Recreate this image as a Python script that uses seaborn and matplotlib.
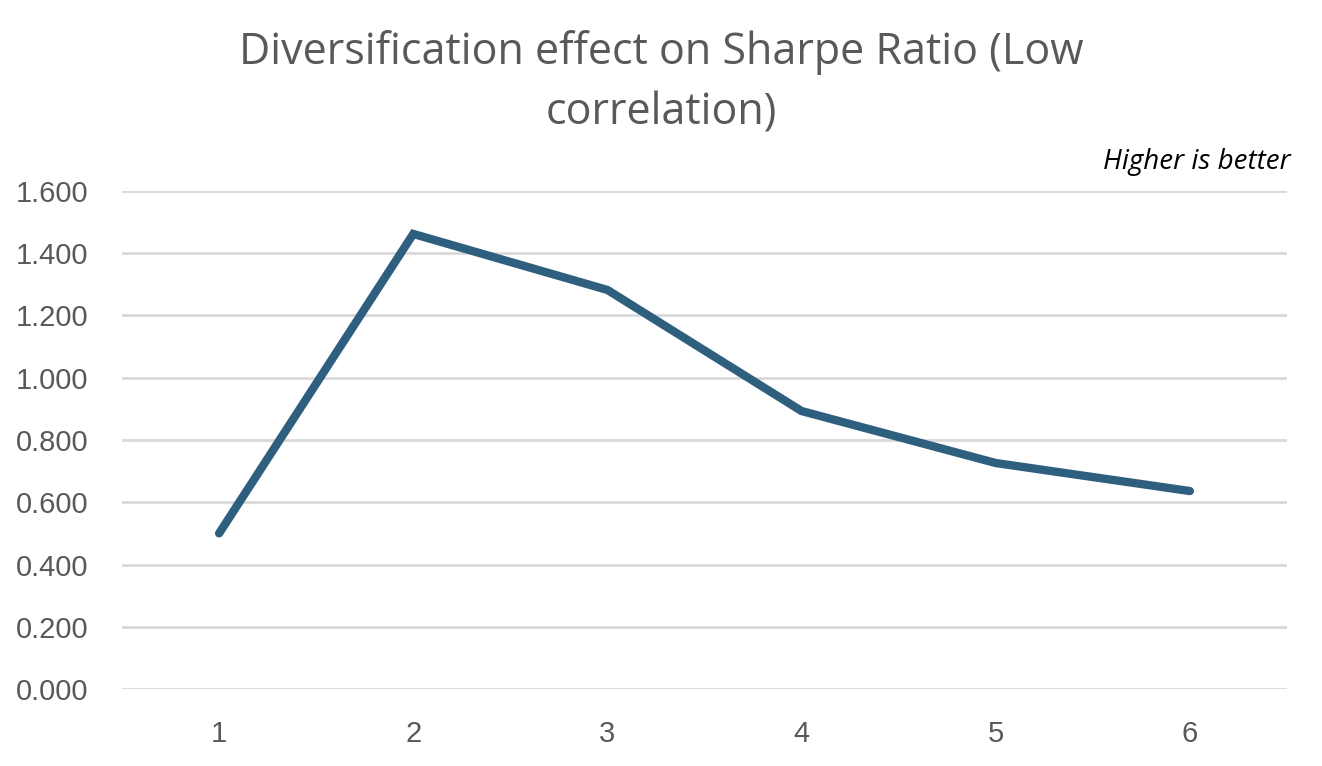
import pandas as pd
import matplotlib.pyplot as plt
import seaborn as sns

assets = [1, 2, 3, 4, 5, 6]
sharpe = [0.50, 1.462, 1.282, 0.893, 0.726, 0.636]
yticks = [0.0, 0.2, 0.4, 0.6, 0.8, 1.0, 1.2, 1.4, 1.6]

df = pd.DataFrame({"Assets": assets, "Sharpe": sharpe})

sns.set_theme(style="white")
plt.rcParams['font.family'] = ['Liberation Sans', 'DejaVu Sans']

fig = plt.figure(figsize=(13.22, 7.66), dpi=100)
ax = fig.add_axes([0.0923, 0.1005, 0.8812, 0.6502])

sns.lineplot(
    data=df,
    x="Assets",
    y="Sharpe",
    color="#2E5F7F",
    linewidth=6,
    solid_capstyle="round",
    solid_joinstyle="miter",
    ax=ax
)

ax.set_xlim(0.5, 6.5)
ax.set_ylim(0, 1.6)
ax.set_xticks(assets)
ax.set_xticklabels([str(a) for a in assets])
ax.set_yticks(yticks)
ax.set_yticklabels([f"{v:.3f}" for v in yticks])
ax.yaxis.grid(True, color="#D9D9D9", linewidth=2)
ax.set_axisbelow(True)
ax.tick_params(axis="both", length=0, labelsize=21, labelcolor="#595959")
ax.tick_params(axis="y", pad=24)
ax.tick_params(axis="x", pad=22)
for s in ax.spines.values():
    s.set_visible(False)
ax.set_xlabel("")
ax.set_ylabel("")

fig.text(0.5, 0.892, "Diversification effect on Sharpe Ratio (Low\ncorrelation)",
         ha="center", va="center", fontsize=31, color="#595959",
         family=["Open Sans", "DejaVu Sans"], linespacing=1.45)
fig.text(0.976, 0.788, "Higher is better", ha="right", va="center",
         fontsize=20, style="italic", color="black",
         family=["Open Sans", "DejaVu Sans"])

fig.savefig("out.png", dpi=100)
